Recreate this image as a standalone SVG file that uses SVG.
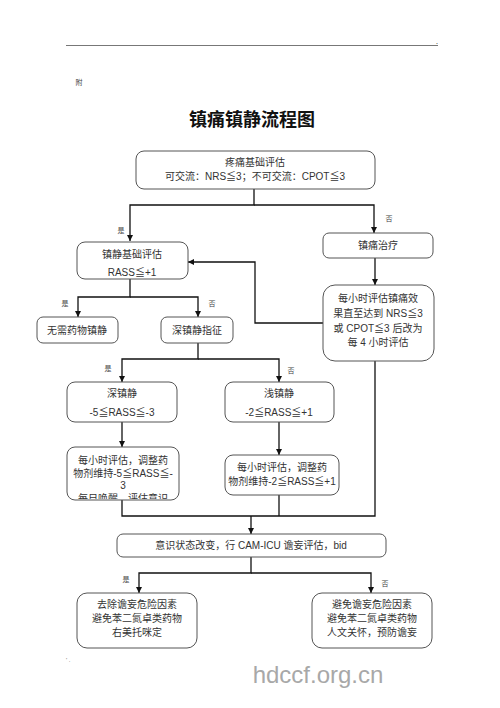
<svg xmlns="http://www.w3.org/2000/svg" width="500" height="708" viewBox="0 0 500 708">
<style>
.box{fill:#fff;stroke:#555;stroke-width:1}
.t{font-family:"Liberation Sans","Noto Sans CJK SC",sans-serif;font-size:10px;fill:#333;text-anchor:middle}
.l{font-family:"Noto Sans CJK SC",sans-serif;font-size:7px;fill:#444;text-anchor:middle}
.c{fill:none;stroke:#111;stroke-width:1.3}
</style>
<defs>
<marker id="a" viewBox="0 0 10 10" refX="10" refY="5" markerWidth="6" markerHeight="6" orient="auto" markerUnits="userSpaceOnUse"><path d="M0,0 L10,5 L0,10z" fill="#111"/></marker>
<clipPath id="clip1"><rect x="60" y="440" width="130" height="59"/></clipPath>
</defs>
<rect width="500" height="708" fill="#fff"/>
<line x1="66" y1="45.5" x2="438" y2="45.5" stroke="#777" stroke-width="1.2"/>
<text x="437" y="44" class="l" font-size="4">.</text>
<text x="79" y="85" class="l" font-size="7">附</text>
<text x="252" y="126" font-family="Noto Sans CJK SC,sans-serif" font-size="18" font-weight="bold" fill="#111" text-anchor="middle">镇痛镇静流程图</text>

<g id="connectors">
<path class="c" d="M254,189 V205 H130 V241" marker-end="url(#a)"/>
<path class="c" d="M254,205 H374 V233" marker-end="url(#a)"/>
<path class="c" d="M375,258 V285" marker-end="url(#a)"/>
<path class="c" d="M323,323 H255 V262 H188" marker-end="url(#a)"/>
<path class="c" d="M130,279 V297 H78 V317" marker-end="url(#a)"/>
<path class="c" d="M130,297 H198 V317" marker-end="url(#a)"/>
<path class="c" d="M198,343 V359 H122 V382" marker-end="url(#a)"/>
<path class="c" d="M198,359 H279 V382" marker-end="url(#a)"/>
<path class="c" d="M122,422 V447" marker-end="url(#a)"/>
<path class="c" d="M279,422 V455" marker-end="url(#a)"/>
<path class="c" d="M122,500 V516 H375 V361"/>
<path class="c" d="M279,495 V516"/>
<path class="c" d="M251,516 V534" marker-end="url(#a)"/>
<path class="c" d="M251,557 V573 H139 V593" marker-end="url(#a)"/>
<path class="c" d="M251,573 H371 V593" marker-end="url(#a)"/>
<text class="l" x="121" y="233">是</text>
<text class="l" x="389" y="221">否</text>
<text class="l" x="65" y="306">是</text>
<text class="l" x="212" y="306">否</text>
<text class="l" x="108" y="371">是</text>
<text class="l" x="291" y="373">否</text>
<text class="l" x="126" y="582">是</text>
<text class="l" x="385" y="586">否</text>
</g>

<g id="n1"><rect class="box" x="136" y="151" width="239" height="38" rx="8"/>
<text class="t" x="255" y="166">疼痛基础评估</text>
<text class="t" x="255" y="180">可交流：NRS≦3；不可交流：CPOT≦3</text></g>

<g id="n2"><rect class="box" x="323" y="233" width="110" height="25" rx="6"/>
<text class="t" x="378" y="249">镇痛治疗</text></g>

<g id="n3"><rect class="box" x="323" y="285" width="111" height="76" rx="12"/>
<text class="t" x="378" y="302">每小时评估镇痛效</text>
<text class="t" x="378" y="317">果直至达到 NRS≦3</text>
<text class="t" x="378" y="332">或 CPOT≦3 后改为</text>
<text class="t" x="378" y="346">每 4 小时评估</text></g>

<g id="n4"><rect class="box" x="77" y="242" width="111" height="37" rx="8"/>
<text class="t" x="132" y="258">镇静基础评估</text>
<text class="t" x="132" y="276">RASS≦+1</text></g>

<g id="n5"><rect class="box" x="37" y="317" width="81" height="26" rx="6"/>
<text class="t" x="77" y="334">无需药物镇静</text></g>

<g id="n6"><rect class="box" x="161" y="317" width="72" height="26" rx="6"/>
<text class="t" x="197" y="334">深镇静指征</text></g>

<g id="n7"><rect class="box" x="67" y="382" width="110" height="40" rx="8"/>
<text class="t" x="122" y="397">深镇静</text>
<text class="t" x="122" y="416">-5≦RASS≦-3</text></g>

<g id="n8"><rect class="box" x="225" y="382" width="109" height="40" rx="8"/>
<text class="t" x="279" y="397">浅镇静</text>
<text class="t" x="279" y="416">-2≦RASS≦+1</text></g>

<g id="n9"><rect class="box" x="67" y="447" width="112" height="53" rx="8"/>
<text class="t" x="123" y="464">每小时评估，调整药</text>
<text class="t" x="123" y="477">物剂维持-5≦RASS≦-</text>
<text class="t" x="123" y="489">3</text>
<text class="t" x="123" y="502" clip-path="url(#clip1)">每日唤醒，评估意识</text></g>

<g id="n10"><rect class="box" x="225" y="455" width="114" height="40" rx="8"/>
<text class="t" x="282" y="471">每小时评估，调整药</text>
<text class="t" x="282" y="485">物剂维持-2≦RASS≦+1</text></g>

<g id="n11"><rect class="box" x="117" y="534" width="269" height="23" rx="6"/>
<text class="t" x="251" y="549">意识状态改变，行 CAM-ICU 谵妄评估，bid</text></g>

<g id="n12"><rect class="box" x="77" y="593" width="120" height="55" rx="10"/>
<text class="t" x="137" y="608">去除谵妄危险因素</text>
<text class="t" x="137" y="622">避免苯二氮卓类药物</text>
<text class="t" x="137" y="636">右美托咪定</text></g>

<g id="n13"><rect class="box" x="312" y="593" width="120" height="55" rx="10"/>
<text class="t" x="372" y="608">避免谵妄危险因素</text>
<text class="t" x="372" y="622">避免苯二氮卓类药物</text>
<text class="t" x="372" y="636">人文关怀，预防谵妄</text></g>

<text x="66" y="662" font-family="Liberation Sans,sans-serif" font-size="6" fill="#666">' .</text>
<text x="318" y="683" font-family="Liberation Sans,sans-serif" font-size="24" fill="#a8a8a8" text-anchor="middle">hdccf.org.cn</text>
</svg>
